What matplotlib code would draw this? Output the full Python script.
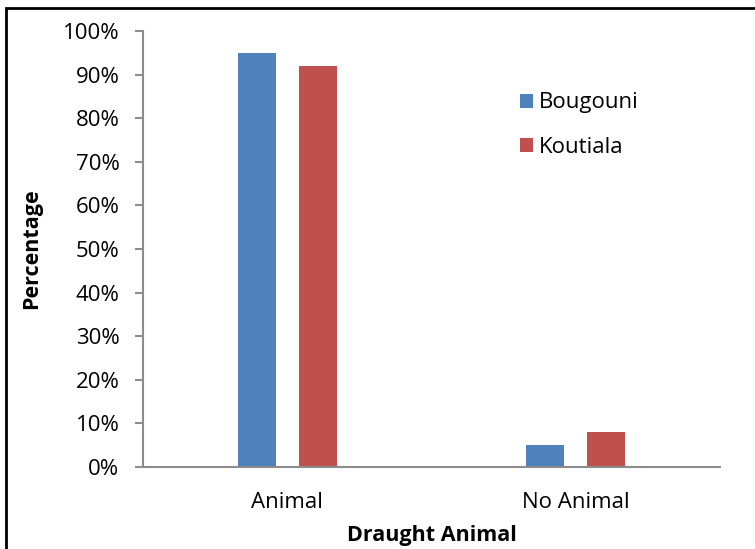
import matplotlib.pyplot as plt
from matplotlib.patches import Rectangle
import numpy as np

categories = ['Animal', 'No Animal']
bougouni = [95, 5]
koutiala = [92, 8]
series_names = ['Bougouni', 'Koutiala']
colors = ['#4F81BD', '#C0504D']
yticks = [0, 10, 20, 30, 40, 50, 60, 70, 80, 90, 100]

plt.rcParams['font.family'] = ['Open Sans', 'DejaVu Sans']

fig = plt.figure(figsize=(7.55, 5.49), dpi=100)
ax = fig.add_axes([143/755, 1-467/549, (720-143)/755, (467-31)/549])

x = np.arange(len(categories))
w = 0.132
off = 0.105
ax.bar(x - off, bougouni, w, color=colors[0], label=series_names[0])
ax.bar(x + off, koutiala, w, color=colors[1], label=series_names[1])

ax.set_xlim(-0.5, 1.5)
ax.set_ylim(0, 100)
ax.set_yticks(yticks)
ax.set_yticklabels([f'{v}%' for v in yticks], fontsize=16)
ax.set_xticks(x)
ax.set_xticklabels(categories, fontsize=16)

for s in ['top', 'right']:
    ax.spines[s].set_visible(False)
for s in ['left', 'bottom']:
    ax.spines[s].set_color('#8c8c8c')
    ax.spines[s].set_linewidth(1.5)
ax.tick_params(axis='y', length=6, width=1.5, color='#8c8c8c', pad=11)
ax.tick_params(axis='x', length=0, pad=18)

ax.set_ylabel('Percentage', fontsize=15.5, fontweight='bold')
ax.yaxis.set_label_coords(-0.175, 0.5)
ax.set_xlabel('Draught Animal', fontsize=15.5, fontweight='bold', va='center')
ax.xaxis.set_label_coords(0.5, -0.158)

ax.legend(loc='upper left', bbox_to_anchor=(0.618, 0.905), frameon=False,
          fontsize=16, handlelength=0.6, handleheight=0.6,
          handletextpad=0.25, labelspacing=1.05)

fig.patches.append(Rectangle((6/755, -0.1), 1.2, 1.1 - 8/549,
                             transform=fig.transFigure, fill=False,
                             edgecolor='black', linewidth=2))

fig.savefig('out.png', dpi=100)
